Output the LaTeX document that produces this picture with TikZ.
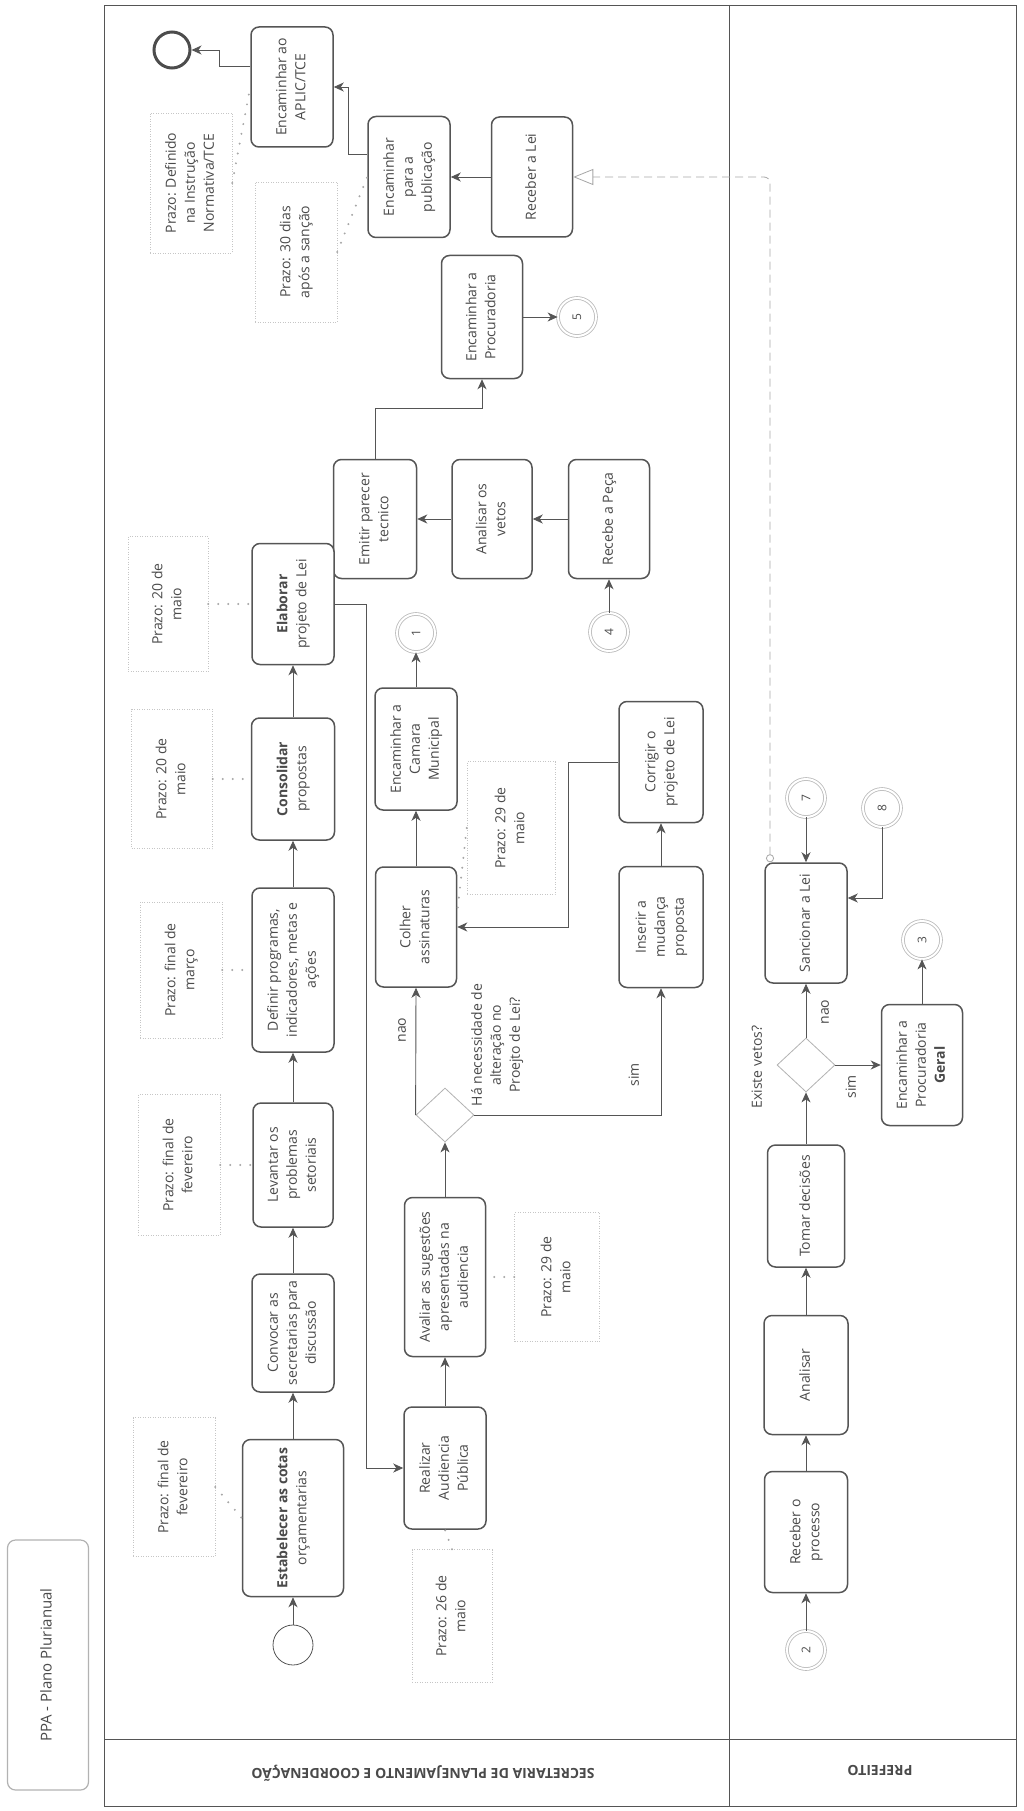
\documentclass[tikz,border=0pt]{standalone}
\usepackage{fontspec}
\usepackage{graphicx}
\setmainfont{Open Sans}
\usetikzlibrary{arrows.meta,shapes.geometric,calc}
\definecolor{ln}{HTML}{555555}
\definecolor{tx}{HTML}{4A4A4A}
\newcommand{\vtxt}[1]{\rotatebox{90}{\begin{tabular}{@{}c@{}}#1\end{tabular}}}
\tikzset{
  base/.style={text=tx, font=\fontsize{14}{19}\selectfont, inner sep=0pt},
  task/.style={base, draw=ln, line width=1.5pt, rounded corners=8pt, fill=white},
  sz/.style 2 args={minimum width=#1pt, minimum height=#2pt},
  annot/.style={base, draw=gray!45, dash pattern=on 1pt off 1.5pt, line width=0.6pt},
  evn/.style={base, font=\fontsize{12}{14}\selectfont, circle, draw=gray!55, double=white, double distance=2pt, line width=0.8pt, minimum size=38pt},
  startev/.style={circle, draw=ln, line width=0.8pt, minimum size=40pt, inner sep=0pt},
  endev/.style={circle, draw=gray!60!black, line width=3pt, minimum size=36pt, inner sep=0pt},
  gw/.style={diamond, draw=gray!60, line width=0.8pt, fill=white, minimum width=58pt, minimum height=54pt, inner sep=0pt},
  lbl/.style={base},
  flow/.style={draw=ln, line width=0.9pt, -{Stealth[length=10pt,width=9pt,inset=3pt]}},
  assoc/.style={draw=gray!70, line width=2.2pt, line cap=round, dash pattern=on 0pt off 10pt},
  msg/.style={draw=gray!70, line width=0.8pt, dash pattern=on 8pt off 5pt, rounded corners=6pt,
     {Circle[open,length=8pt,width=8pt]}-{Triangle[open,length=20pt,width=16pt]}},
  pool/.style={draw=ln, line width=0.9pt},
}
\begin{document}
\begin{tikzpicture}[x=1pt,y=-1pt]
\useasboundingbox (0,0) rectangle (1023,1811);
% pool frame
\draw[pool] (104,5) rectangle (1016,1806);
\draw[pool] (729,5) -- (729,1806);
\draw[pool] (104,1739) -- (1016,1739);
\node[base, font=\fontsize{14}{16}\selectfont\bfseries, rotate=180] (lane1) at (423,1773) {SECRETARIA DE PLANEJAMENTO E COORDENAÇÃO};
\node[base, font=\fontsize{14}{16}\selectfont\bfseries, rotate=180] (lane2) at (880,1770) {PREFEITO};
\node[base, font=\fontsize{15}{18}\selectfont, draw=gray!60, line width=1.2pt, rounded corners=8pt, sz={81}{250}] (ppa) at (48,1665) {\vtxt{PPA - Plano Plurianual}};

% ---- top area
\node[endev] (endE) at (172,50) {};
\node[task, sz={82}{120}] (aplic) at (292,87) {\vtxt{Encaminhar ao\\APLIC/TCE}};
\node[task, sz={82}{121}] (pub) at (409,177) {\vtxt{Encaminhar\\para a\\publicação}};
\node[task, sz={81}{120}] (recLei) at (532,177) {\vtxt{Receber a Lei}};
\node[annot, sz={82}{140}] (annTCE) at (191,183) {\vtxt{Prazo: Definido\\na Instrução\\Normativa/TCE}};
\node[annot, sz={82}{140}] (ann30) at (296,252) {\vtxt{Prazo: 30 dias\\após a sanção}};
\node[task, sz={81}{123}] (procur) at (482,317) {\vtxt{Encaminhar a\\Procuradoria}};
\node[evn] (ev5) at (577,317) {\rotatebox{90}{5}};
\node[task, sz={83}{119}] (emitir) at (375,519) {\vtxt{Emitir parecer\\tecnico}};
\node[task, sz={80}{119}] (analV) at (492,519) {\vtxt{Analisar os\\vetos}};
\node[task, sz={81}{119}] (recPeca) at (609,519) {\vtxt{Recebe a Peça}};
\node[evn] (ev4) at (609,632) {\rotatebox{90}{4}};

% ---- left column
\node[task, sz={82}{121}] (elab) at (293,604) {\vtxt{\textbf{Elaborar}\\projeto de Lei}};
\node[annot, sz={80}{135}] (annElab) at (168,604) {\vtxt{Prazo: 20 de\\maio}};
\node[task, sz={83}{122}] (consol) at (293,779) {\vtxt{\textbf{Consolidar}\\propostas}};
\node[annot, sz={81}{139}] (annCons) at (172,779) {\vtxt{Prazo: 20 de\\maio}};
\node[task, sz={82}{164}] (definir) at (293,970) {\vtxt{Definir programas,\\indicadores, metas e\\ações}};
\node[annot, sz={82}{136}] (annMar) at (181,970) {\vtxt{Prazo: final de\\março}};
\node[task, sz={80}{124}] (levantar) at (293,1165) {\vtxt{Levantar os\\problemas\\setoriais}};
\node[annot, sz={82}{141}] (annFev1) at (179,1165) {\vtxt{Prazo: final de\\fevereiro}};
\node[task, sz={82}{118}] (convocar) at (293,1333) {\vtxt{Convocar as\\secretarias para\\discussão}};
\node[task, sz={101}{157}] (estab) at (293,1518) {\vtxt{\textbf{Estabelecer as cotas}\\orçamentarias}};
\node[annot, sz={82}{139}] (annFev2) at (174,1487) {\vtxt{Prazo: final de\\fevereiro}};
\node[startev] (startE) at (293,1645) {};

% ---- middle column
\node[task, sz={82}{122}] (camara) at (416,749) {\vtxt{Encaminhar a\\Camara\\Municipal}};
\node[evn] (ev1) at (416,633) {\rotatebox{90}{1}};
\node[task, sz={81}{120}] (colher) at (416,927) {\vtxt{Colher\\assinaturas}};
\node[annot, sz={88}{133}] (ann29a) at (511,828) {\vtxt{Prazo: 29 de\\maio}};
\node[task, sz={84}{121}] (corrigir) at (661,762) {\vtxt{Corrigir o\\projeto de Lei}};
\node[task, sz={84}{121}] (inserir) at (661,927) {\vtxt{Inserir a\\mudança\\proposta}};
\node[gw] (gw1) at (445,1115) {};
\node[lbl] (gw1lbl) at (497,1045) {\vtxt{Há necessidade de\\alteração no\\Proejto de Lei?}};
\node[lbl] (nao1) at (402,1030) {\vtxt{nao}};
\node[lbl] (sim1) at (635,1075) {\vtxt{sim}};
\node[task, sz={81}{159}] (avaliar) at (445,1277) {\vtxt{Avaliar as sugestões\\apresentadas na\\audiencia}};
\node[annot, sz={85}{129}] (ann29b) at (557,1277) {\vtxt{Prazo: 29 de\\maio}};
\node[task, sz={82}{122}] (realizar) at (445,1468) {\vtxt{Realizar\\Audiencia\\Pública}};
\node[annot, sz={80}{133}] (ann26) at (452,1616) {\vtxt{Prazo: 26 de\\maio}};

% ---- prefeito lane
\node[task, sz={82}{120}] (sancionar) at (806,923) {\vtxt{Sancionar a Lei}};
\node[evn] (ev7) at (806,798) {\rotatebox{90}{7}};
\node[evn] (ev8) at (882,808) {\rotatebox{90}{8}};
\node[gw] (gw2) at (806,1065) {};
\node[lbl] (gw2lbl) at (758,1067) {\vtxt{Existe vetos?}};
\node[lbl] (nao2) at (825,1012) {\vtxt{nao}};
\node[lbl] (sim2) at (852,1087) {\vtxt{sim}};
\node[task, sz={81}{121}] (procG) at (922,1065) {\vtxt{Encaminhar a\\Procuradoria\\\textbf{Geral}}};
\node[evn] (ev3) at (922,940) {\rotatebox{90}{3}};
\node[task, sz={77}{122}] (tomar) at (806,1206) {\vtxt{Tomar decisões}};
\node[task, sz={84}{119}] (analisar) at (806,1375) {\vtxt{Analisar}};
\node[task, sz={83}{121}] (recProc) at (806,1532) {\vtxt{Receber o\\processo}};
\node[evn] (ev2) at (806,1650) {\rotatebox{90}{2}};

% ---- sequence flows
\draw[flow] (startE) -- (estab);
\draw[flow] (estab) -- (convocar);
\draw[flow] (convocar) -- (levantar);
\draw[flow] (levantar) -- (definir);
\draw[flow] (definir) -- (consol);
\draw[flow] (consol) -- (elab);
\draw[flow] (elab.east) -- ++(32,0) |- (realizar.west);
\draw[flow] (realizar) -- (avaliar);
\draw[flow] (avaliar.north) -- (gw1.south);
\draw[flow] (gw1.west) -- (colher.south);
\draw[flow] (gw1.east) -| (inserir.south);
\draw[flow] (inserir) -- (corrigir);
\draw[flow] (corrigir.west) -- ++(-50,0) |- (colher.east);
\draw[flow] (colher) -- (camara);
\draw[flow] (camara) -- (ev1);
\draw[flow] (ev4) -- (recPeca);
\draw[flow] (recPeca) -- (analV);
\draw[flow] (analV) -- (emitir);
\draw[flow] (emitir.north) -- ++(0,-50) -| (procur.south);
\draw[flow] (procur) -- (ev5);
\draw[flow] (recLei) -- (pub);
\draw[flow] ([yshift=23pt]pub.west) -- ++(-19,0) |- (aplic.east);
\draw[flow] ([yshift=21pt]aplic.west) -- ++(-31,0) |- (endE.east);
\draw[flow] (ev2) -- (recProc);
\draw[flow] (recProc) -- (analisar);
\draw[flow] (analisar) -- (tomar);
\draw[flow] (tomar.north) -- (gw2.south);
\draw[flow] (gw2.north) -- (sancionar.south);
\draw[flow] (gw2.east) -- (procG.west);
\draw[flow] (procG) -- (ev3);
\draw[flow] (ev7) -- (sancionar);
\draw[flow] (ev8.south) |- ([yshift=25pt]sancionar.east);

% ---- message flow
\draw[msg] ([xshift=-36pt]sancionar.north) |- (recLei.east);

% ---- associations
\draw[assoc] (annTCE.east) -- (aplic.west);
\draw[assoc] (ann30.east) -- (pub.west);
\draw[assoc] (annElab.east) -- (elab.west);
\draw[assoc] (annCons.east) -- (consol.west);
\draw[assoc] (annMar.east) -- (definir.west);
\draw[assoc] (annFev1.east) -- (levantar.west);
\draw[assoc] (annFev2.east) -- (estab.west);
\draw[assoc] (ann29a.west) -- ([yshift=15pt]colher.east);
\draw[assoc] (ann29b.west) -- (avaliar.east);
\draw[assoc] (ann26.north) -- (realizar.south);
\end{tikzpicture}
\end{document}
